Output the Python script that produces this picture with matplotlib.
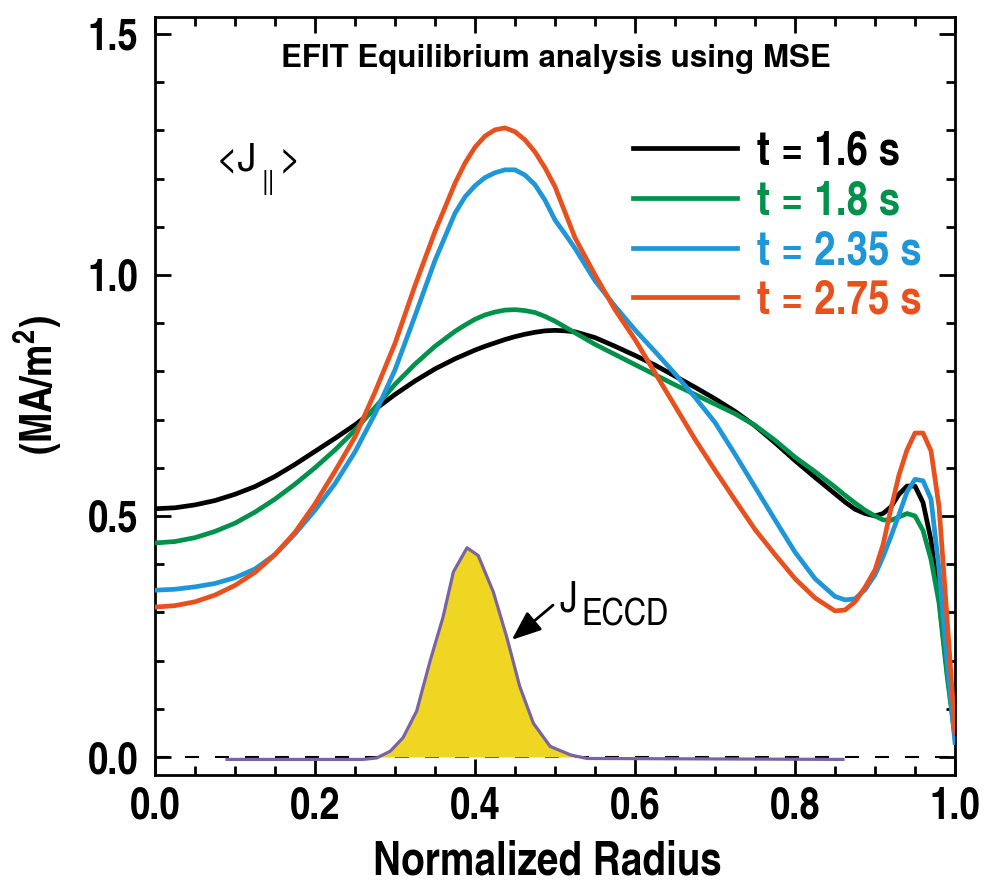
import matplotlib
matplotlib.use("Agg")
import matplotlib.pyplot as plt
from matplotlib.ticker import MultipleLocator

# ---------------- data ----------------
radius = [0.000, 0.025, 0.050, 0.075, 0.100, 0.125, 0.150, 0.175, 0.200, 0.225,
          0.250, 0.275, 0.300, 0.325, 0.350, 0.375, 0.3875, 0.400, 0.4125, 0.425,
          0.4375, 0.450, 0.4625, 0.475, 0.4875, 0.500, 0.5125, 0.525, 0.550, 0.575,
          0.600, 0.625, 0.650, 0.675, 0.700, 0.725, 0.750, 0.775, 0.800, 0.825,
          0.850, 0.8625, 0.875, 0.8875, 0.900, 0.910, 0.920, 0.930, 0.940, 0.950,
          0.960, 0.970, 0.980, 0.990, 1.000]

j_t16 = [0.515, 0.517, 0.523, 0.532, 0.545, 0.561, 0.582, 0.607, 0.634, 0.661,
         0.689, 0.721, 0.752, 0.780, 0.805, 0.826, 0.835, 0.844, 0.852, 0.859,
         0.866, 0.872, 0.877, 0.881, 0.884, 0.885, 0.884, 0.882, 0.870, 0.852,
         0.833, 0.813, 0.790, 0.767, 0.743, 0.717, 0.687, 0.652, 0.615, 0.580,
         0.546, 0.529, 0.514, 0.505, 0.500, 0.505, 0.519, 0.545, 0.562, 0.562,
         0.528, 0.450, 0.330, 0.180, 0.050]

j_t18 = [0.444, 0.447, 0.455, 0.468, 0.485, 0.508, 0.535, 0.566, 0.600, 0.637,
         0.678, 0.725, 0.773, 0.815, 0.852, 0.883, 0.896, 0.908, 0.917, 0.923,
         0.927, 0.928, 0.926, 0.922, 0.914, 0.904, 0.892, 0.880, 0.856, 0.835,
         0.814, 0.793, 0.772, 0.752, 0.732, 0.712, 0.688, 0.657, 0.622, 0.592,
         0.560, 0.543, 0.527, 0.512, 0.500, 0.492, 0.491, 0.498, 0.505, 0.500,
         0.470, 0.410, 0.320, 0.170, 0.040]

j_t235 = [0.346, 0.348, 0.353, 0.360, 0.372, 0.390, 0.420, 0.463, 0.512, 0.567,
          0.633, 0.712, 0.803, 0.915, 1.030, 1.128, 1.162, 1.185, 1.202, 1.212,
          1.218, 1.218, 1.207, 1.187, 1.155, 1.114, 1.085, 1.055, 0.988, 0.935,
          0.886, 0.841, 0.795, 0.746, 0.694, 0.628, 0.560, 0.492, 0.425, 0.370,
          0.333, 0.326, 0.328, 0.347, 0.378, 0.415, 0.458, 0.503, 0.550, 0.576,
          0.573, 0.535, 0.390, 0.200, 0.030]

j_t275 = [0.311, 0.314, 0.322, 0.336, 0.356, 0.383, 0.420, 0.466, 0.525, 0.593,
          0.664, 0.757, 0.858, 0.978, 1.090, 1.190, 1.232, 1.265, 1.288, 1.301,
          1.305, 1.297, 1.280, 1.255, 1.222, 1.183, 1.130, 1.077, 1.000, 0.928,
          0.866, 0.797, 0.728, 0.659, 0.595, 0.533, 0.472, 0.420, 0.370, 0.330,
          0.303, 0.305, 0.322, 0.352, 0.388, 0.440, 0.515, 0.585, 0.637, 0.672,
          0.672, 0.635, 0.520, 0.290, 0.050]

eccd_x = [0.09, 0.26, 0.277, 0.294, 0.31, 0.327, 0.344, 0.36, 0.373, 0.39,
          0.404, 0.423, 0.44, 0.456, 0.473, 0.494, 0.52, 0.54, 0.86]
eccd_y = [-0.005, -0.005, -0.002, 0.012, 0.04, 0.095, 0.2, 0.29, 0.384, 0.434,
          0.418, 0.342, 0.247, 0.146, 0.07, 0.022, 0.004, -0.003, -0.005]

series_labels = ["t = 1.6 s", "t = 1.8 s", "t = 2.35 s", "t = 2.75 s"]
series_colors = ["#000000", "#00924A", "#1E96D7", "#E8501E"]
x_ticks = [0.0, 0.2, 0.4, 0.6, 0.8, 1.0]
y_ticks = [0.0, 0.5, 1.0, 1.5]

# ---------------- style ----------------
COND = ["TeX Gyre Heros Cn", "DejaVu Sans"]
SANS = ["TeX Gyre Heros", "Liberation Sans", "DejaVu Sans"]
plt.rcParams["font.family"] = COND
plt.rcParams["mathtext.fontset"] = "custom"
plt.rcParams["mathtext.bf"] = "TeX Gyre Heros Cn:bold"
plt.rcParams["mathtext.rm"] = "TeX Gyre Heros Cn:bold"

fig = plt.figure(figsize=(9.88, 8.83), dpi=100)
ax = fig.add_axes([155 / 988, (883 - 775) / 883, 800 / 988, 758 / 883])

ax.set_xlim(0, 1)
ax.set_ylim(-0.0373, 1.535)

# zero reference line
ax.axhline(0, color="black", lw=1.5, dashes=(6.7, 7.7), zorder=1)

# ECCD profile
ax.fill_between(eccd_x, eccd_y, 0, where=[v > 0 for v in eccd_y],
                interpolate=True, color="#EED622", lw=0, zorder=2)
ax.plot(eccd_x, eccd_y, color="#7864A5", lw=2.3, zorder=3)

for ys, lab, col in zip([j_t16, j_t18, j_t235, j_t275], series_labels, series_colors):
    ax.plot(radius, ys, color=col, lw=3.4, label=lab, zorder=4,
            solid_joinstyle="round")

# ticks
ax.set_xticks(x_ticks)
ax.set_yticks(y_ticks)
ax.set_xticklabels([f"{v:.1f}" for v in x_ticks])
ax.set_yticklabels([f"{v:.1f}" for v in y_ticks])
ax.xaxis.set_minor_locator(MultipleLocator(0.05))
ax.yaxis.set_minor_locator(MultipleLocator(0.1))
ax.tick_params(which="both", direction="in", top=True, right=True, width=2)
ax.tick_params(which="major", length=11.5)
ax.tick_params(which="minor", length=6.5)
ax.tick_params(axis="x", which="major", pad=8)
ax.tick_params(axis="y", which="major", pad=12)
for lab in ax.get_xticklabels() + ax.get_yticklabels():
    lab.set_fontsize(32)
    lab.set_fontweight("bold")
    lab.set_family(COND)
for s in ax.spines.values():
    s.set_linewidth(2)

ax.set_xlabel("Normalized Radius", fontsize=34, fontweight="bold", family=COND)
ax.xaxis.set_label_coords(0.49, -0.086)

ax.set_ylabel(r"(MA/m$^{\mathbf{2}}$)", fontsize=32, fontweight="bold", family=COND)
ax.yaxis.set_label_coords(-0.114, 0.514)

# title inside
ax.text(0.501, 0.934, "EFIT Equilibrium analysis using MSE", transform=ax.transAxes,
        ha="center", va="baseline", fontsize=22.5, fontweight="bold", family=SANS)

# <J||>
ax.text((216 - 155) / 800, (775 - 170) / 758, "<J", transform=ax.transAxes,
        ha="left", va="baseline", fontsize=27.5, family=SANS)
ax.text((261 - 155) / 800, (775 - 170) / 758, "||", transform=ax.transAxes,
        ha="left", va="top", fontsize=18.5, family=SANS)
ax.text((279 - 155) / 800, (775 - 170) / 758, ">", transform=ax.transAxes,
        ha="left", va="baseline", fontsize=27.5, family=SANS)

# J_ECCD annotation
ax.annotate("", xy=(0.446, 0.243), xytext=(0.4975, 0.315),
            arrowprops=dict(arrowstyle="-|>,head_length=0.45,head_width=0.18",
                            mutation_scale=40, lw=2, color="black",
                            shrinkA=0, shrinkB=0))
ax.text((559 - 155) / 800, (775 - 612) / 758, "J", transform=ax.transAxes,
        ha="left", va="baseline", fontsize=31, family=COND)
ax.text((581 - 155) / 800, (775 - 625) / 758, "ECCD", transform=ax.transAxes,
        ha="left", va="baseline", fontsize=27, family=COND)

leg = ax.legend(loc="upper left", bbox_to_anchor=((633 - 155) / 800, 0.850),
                frameon=False, handlelength=2.2, handletextpad=0.42,
                labelspacing=0.12, borderpad=0, borderaxespad=0,
                labelcolor="linecolor",
                prop={"family": COND, "weight": "bold", "size": 34})

fig.savefig("out.png", dpi=100)
